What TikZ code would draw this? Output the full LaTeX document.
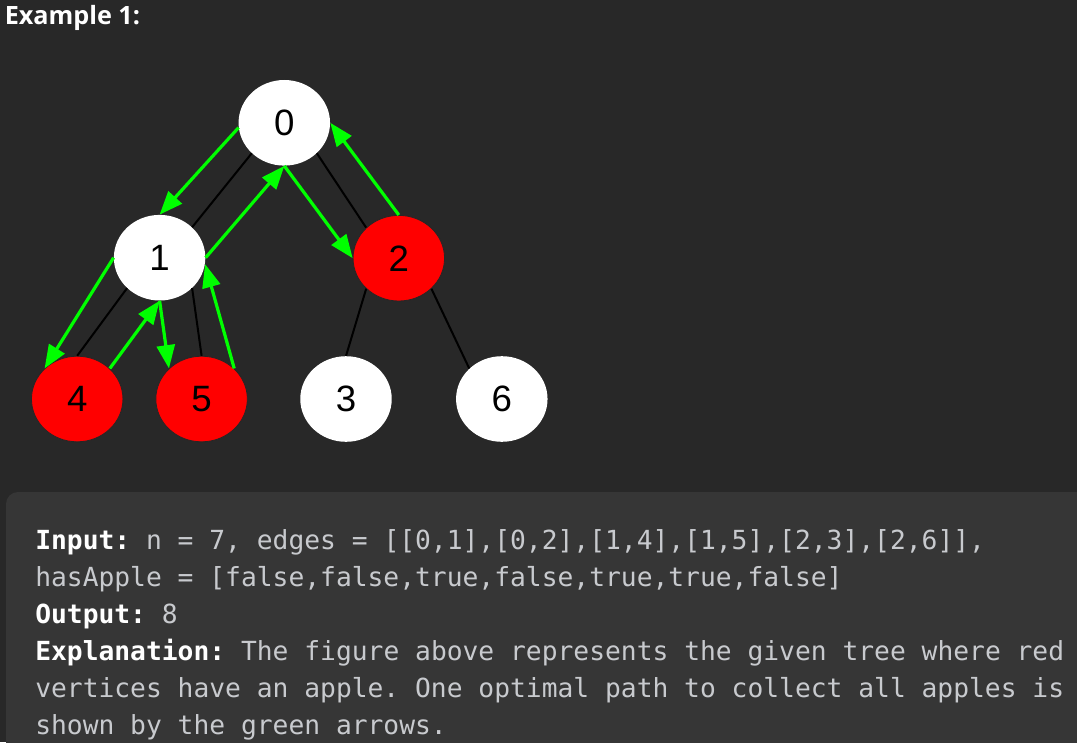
\documentclass[tikz,border=0pt]{standalone}
\usepackage{fontspec}
\setmainfont{Liberation Sans}
\newfontfamily\headfont{Open Sans}
\newfontfamily\codefont{DejaVu Sans Mono}
\usetikzlibrary{shapes.geometric,arrows.meta,calc}
\definecolor{bg}{HTML}{282828}
\definecolor{boxbg}{HTML}{363636}
\definecolor{codetxt}{HTML}{C8CACE}
\definecolor{arrowgreen}{HTML}{00FF00}
\definecolor{applered}{HTML}{FF0000}
\frenchspacing
\begin{document}
\begin{tikzpicture}[x=0.75pt,y=-0.75pt,
  vertex/.style={ellipse, minimum width=68.6pt, minimum height=64.2pt, inner sep=0pt,
    font=\fontsize{27.5}{27.5}\selectfont, text=black},
  plainvertex/.style={vertex, fill=white},
  applevertex/.style={vertex, fill=applered, draw=black!85, line width=0.6pt},
  treeedge/.style={black, line width=1.5pt},
  walk/.style={arrowgreen, line width=2.4pt, -{Triangle[length=17.5pt,width=13.5pt]}},
  codeline/.style={anchor=base west, inner sep=0pt, text=codetxt,
    font=\codefont\fontsize{19.72}{19.72}\selectfont\frenchspacing}
]
\useasboundingbox (0,0) rectangle (1077,742);
\clip (0,0) rectangle (1077,742);
\fill[bg] (0,0) rectangle (1077,742);
\fill[boxbg, rounded corners=9pt] (6,492) rectangle (1100,780);

\node[anchor=base west, inner sep=0pt, text=white,
  font=\headfont\bfseries\fontsize{18.9}{18.9}\selectfont] (title) at (4.5,25) {Example 1:};

% tree nodes
\node[plainvertex] (n0) at (284.3,122.8) {0};
\node[plainvertex] (n1) at (159.6,257.7) {1};
\node[applevertex] (n2) at (398.8,258.2) {2};
\node[applevertex] (n4) at (77.2,399) {4};
\node[applevertex] (n5) at (201.6,399) {5};
\node[plainvertex] (n3) at (346,399) {3};
\node[plainvertex] (n6) at (501.8,399) {6};

% tree edges
\draw[treeedge] (n0.south west) -- (n1.north east);
\draw[treeedge] (n0.south east) -- (n2.north west);
\draw[treeedge] (n1.south west) -- (n4.north);
\draw[treeedge] (n1.south east) -- (n5.north);
\draw[treeedge] (n2.south west) -- (n3.north);
\draw[treeedge] (n2.south east) -- (n6.north west);

% green walk
\draw[walk] (n0.186) -- (n1.north);
\draw[walk] (n1.west) -- (n4.north west);
\draw[walk] (n4.north east) -- (n1.south);
\draw[walk] (n1.south) -- (n5.north west);
\draw[walk] (n5.north east) -- (n1.-8);
\draw[walk] (n1.east) -- (n0.south);
\draw[walk] (n0.south) -- (n2.west);
\draw[walk] (n2.north) -- (n0.east);

% text block
\node[codeline] (l1) at (35,549) {{\color{white}\bfseries Input:} n = 7, edges = [[0,1],[0,2],[1,4],[1,5],[2,3],[2,6]],};
\node[codeline] (l2) at (35,586) {hasApple = [false,false,true,false,true,true,false]};
\node[codeline] (l3) at (35,623) {{\color{white}\bfseries Output:} 8};
\node[codeline] (l4) at (35,660) {{\color{white}\bfseries Explanation:} The figure above represents the given tree where red};
\node[codeline] (l5) at (35,697) {vertices have an apple. One optimal path to collect all apples is};
\node[codeline] (l6) at (35,734) {shown by the green arrows.};
\end{tikzpicture}
\end{document}
